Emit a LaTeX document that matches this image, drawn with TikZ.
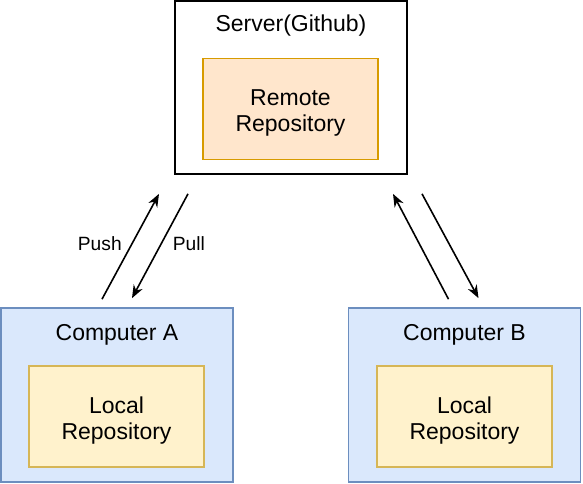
\documentclass[tikz,border=0pt]{standalone}
\usepackage{fontspec}
\setmainfont{Liberation Sans}
\usetikzlibrary{arrows.meta,positioning}
\definecolor{bluefill}{HTML}{DAE8FC}
\definecolor{blueline}{HTML}{6C8EBF}
\definecolor{yellowfill}{HTML}{FFF2CC}
\definecolor{yellowline}{HTML}{D6B656}
\definecolor{orangefill}{HTML}{FFE6CC}
\definecolor{orangeline}{HTML}{D79B00}
\tikzset{
  hostbox/.style={
    rectangle, draw=#1, line width=0.85pt,
    minimum width=116pt, minimum height=87pt,
    inner sep=0pt
  },
  hostbox/.default=black,
  repobox/.style={
    rectangle, line width=0.85pt,
    minimum width=87.5pt, minimum height=50.5pt,
    inner sep=0pt
  },
  repotext/.style={
    font=\fontsize{11.5}{13}\selectfont, align=center,
    inner sep=0pt, yshift=-2pt
  },
  titlenode/.style={
    font=\fontsize{11.5}{13}\selectfont, inner sep=0pt
  },
  syncarrow/.style={
    -{Stealth[length=6.5pt, width=5pt]}, line width=0.8pt
  },
  arrowlabel/.style={
    font=\fontsize{9.6}{11}\selectfont, inner sep=0pt
  },
}

\begin{document}
\begin{tikzpicture}[x=0.5pt, y=-0.5pt]
  \useasboundingbox (0,0) rectangle (583,483);
  % server with the remote repository
  \node[hostbox, fill=white, minimum height=86.5pt] (server) at (291,87.5) {};
  \node[titlenode] (servertitle) at ([yshift=-12.5pt]server.north) {Server(Github)};
  \node[repobox, draw=orangeline, fill=orangefill,
        label={[repotext]center:Remote\\Repository}] (remote) at (290.5,109) {};
  % the two computers
  \node[hostbox=blueline, fill=bluefill] (compa) at (117,395) {};
  \node[titlenode] (compatitle) at ([yshift=-14pt]compa.north) {Computer A};
  \node[repobox, draw=yellowline, fill=yellowfill,
        label={[repotext]center:Local\\Repository}] (locala) at (116.5,416.5) {};
  \node[hostbox=blueline, fill=bluefill] (compb) at (464.5,395) {};
  \node[titlenode] (compbtitle) at ([yshift=-14pt]compb.north) {Computer B};
  \node[repobox, draw=yellowline, fill=yellowfill,
        label={[repotext]center:Local\\Repository}] (localb) at (464.5,416.5) {};
  % push / pull
  \draw[syncarrow] ([xshift=-7.5pt, yshift=4pt]compa.north) -- ([xshift=-66pt, yshift=-9.5pt]server.south)
    node[arrowlabel, midway, left=4pt, yshift=1.5pt] (pushlabel) {Push};
  \draw[syncarrow] ([xshift=-51.5pt, yshift=-9.5pt]server.south) -- ([xshift=7.5pt, yshift=4.5pt]compa.north)
    node[arrowlabel, midway, right=6pt, yshift=1pt] (pulllabel) {Pull};
  \draw[syncarrow] ([xshift=-8pt, yshift=4pt]compb.north) -- ([xshift=51pt, yshift=-9.5pt]server.south);
  \draw[syncarrow] ([xshift=65.5pt, yshift=-9.5pt]server.south) -- ([xshift=7pt, yshift=4.5pt]compb.north);
\end{tikzpicture}
\end{document}
